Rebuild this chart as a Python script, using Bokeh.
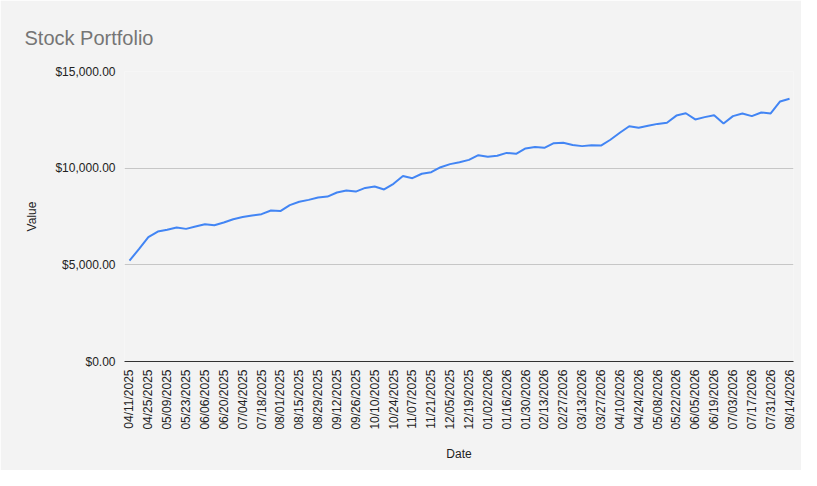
from math import pi

import pandas as pd

from bokeh.embed import file_html
from bokeh.models import FixedTicker, NumeralTickFormatter, Range1d
from bokeh.plotting import figure
from bokeh.resources import INLINE

# weekly dates, one point per week
dates = [d.strftime("%m/%d/%Y") for d in pd.date_range("2025-04-11", periods=71, freq="7D")]

values = [
    5220, 5810, 6430, 6720, 6810, 6930, 6860, 6980, 7100, 7050,
    7190, 7360, 7470, 7550, 7620, 7810, 7780, 8090, 8260, 8360,
    8480, 8530, 8740, 8840, 8790, 8980, 9050, 8900, 9190, 9590,
    9480, 9710, 9790, 10050, 10210, 10310, 10430, 10670, 10590, 10640,
    10790, 10740, 11020, 11090, 11050, 11290, 11310, 11200, 11140, 11190,
    11170, 11470, 11830, 12170, 12090, 12190, 12290, 12350, 12720, 12840,
    12520, 12640, 12740, 12310, 12690, 12830, 12690, 12880, 12830, 13450,
    13590,
]

y_ticks = [0, 5000, 10000, 15000]

BG = "#f3f3f3"
FONT = "Liberation Sans"

idx = list(range(len(dates)))

p = figure(width=801, height=470, output_backend="svg", toolbar_location=None,
           x_range=Range1d(-0.53, len(dates) - 1 + 0.42), y_range=Range1d(0, 15000),
           min_border_left=124, min_border_right=8, min_border_top=71, min_border_bottom=109,
           title="Stock Portfolio")

p.background_fill_color = BG
p.border_fill_color = BG
p.outline_line_color = None

p.title.text_font = FONT
p.title.text_font_size = "20px"
p.title.text_font_style = "normal"
p.title.text_color = "#757575"
p.title.align = "left"
p.title.offset = -100
p.title.standoff = 46

p.line(idx, values, line_color="#4285f4", line_width=2)

# x axis: every other week labelled
p.xaxis.ticker = FixedTicker(ticks=idx[::2])
p.xaxis.major_label_overrides = {i: dates[i] for i in idx[::2]}
p.xaxis.major_label_orientation = pi / 2
p.xaxis.axis_label = "Date"
p.xaxis.axis_line_color = "#333333"
p.xaxis.major_tick_line_color = None
p.xaxis.minor_tick_line_color = None
p.xaxis.major_label_standoff = 2
p.xaxis.axis_label_standoff = 14

p.yaxis.ticker = FixedTicker(ticks=y_ticks)
p.yaxis.formatter = NumeralTickFormatter(format="$0,0.00")
p.yaxis.axis_label = "Value"
p.yaxis.axis_line_color = None
p.yaxis.major_tick_line_color = None
p.yaxis.minor_tick_line_color = None
p.yaxis.major_label_standoff = 3
p.yaxis.axis_label_standoff = 13

for ax in (p.xaxis, p.yaxis):
    ax.major_label_text_font = FONT
    ax.major_label_text_font_size = "12px"
    ax.major_label_text_color = "#222222"
    ax.axis_label_text_font = FONT
    ax.axis_label_text_font_size = "12px"
    ax.axis_label_text_font_style = "normal"
    ax.axis_label_text_color = "#222222"

p.xgrid.grid_line_color = None
p.ygrid.grid_line_color = "#c6c6c6"

open("out.html", "w").write(file_html(p, INLINE))
